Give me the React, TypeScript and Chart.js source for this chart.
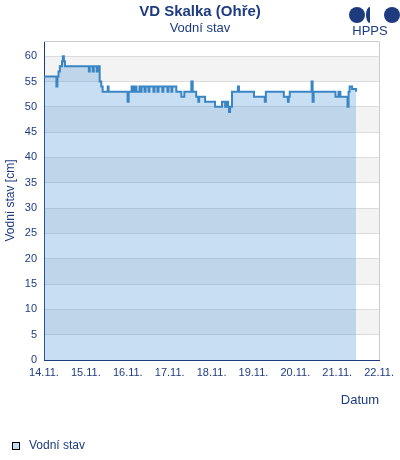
import React, { useEffect, useRef } from "react";
import { Chart, registerables } from "chart.js";

Chart.register(...registerables);

// hours since 14.11. 00:00
const hours = [
  0, 7.1, 7.7, 8.3, 9.1, 10.3, 10.8, 11.4, 12,
  25.7, 26.2, 27.9, 28.5, 30.2, 30.8,
  31.9, 32.8, 33.6,
  36.5, 37,
  47.9, 48.5,
  50.2, 51, 51.9, 53, 54.7, 55.3, 55.9, 57.6, 58.2, 59.9, 60.4, 62.7, 63.3, 65, 65.6, 67.8, 68.4, 70.7, 71.3, 73, 73.5, 75.8,
  78.7, 80.4,
  84.4, 85.2,
  87.2, 88.4, 88.9,
  92.3,
  98,
  102, 103.8, 104.9, 105.5, 106, 106.6,
  107.7,
  111.1, 111.7,
  120.3,
  126.5, 127.1,
  137.4,
  139.7, 140.2,
  140.8,
  153.3, 153.9, 154.5,
  167, 168.7, 169.8,
  173.9, 174.5, 175.1, 176.5, 178.8,
];
const levels = [
  56, 54, 56, 57, 58, 59, 60, 59, 58,
  57, 58, 57, 58, 57, 58,
  55, 54, 53,
  54, 53,
  51, 53,
  54, 53, 54, 53, 54, 53, 54, 53, 54, 53, 54, 53, 54, 53, 54, 53, 54, 53, 54, 53, 54, 53,
  52, 53,
  55, 53,
  52, 51, 52,
  51,
  50,
  51, 50, 51, 50, 49, 50,
  53,
  54, 53,
  52,
  51, 53,
  52,
  51, 52,
  53,
  55, 51, 53,
  52, 53, 52,
  50, 53, 54, 53.5, 53,
];
const dayLabels = ["14.11.", "15.11.", "16.11.", "17.11.", "18.11.", "19.11.", "20.11.", "21.11.", "22.11."];
const seriesName = "Vodní stav";
const chartTitle = "VD Skalka (Ohře)";
const yTitle = "Vodní stav [cm]";
const xTitle = "Datum";

const NAVY = "#1f3b7f";
const FONT = "'Liberation Sans', Arial, sans-serif";

const bandsPlugin = {
  id: "bands",
  beforeDraw(chart: any) {
    const { ctx, chartArea, scales } = chart;
    const y = scales.y;
    ctx.save();
    ctx.fillStyle = "#f3f3f3";
    for (let v = 5; v < 60; v += 10) {
      const top = y.getPixelForValue(v + 5);
      const bot = y.getPixelForValue(v);
      ctx.fillRect(chartArea.left, top, chartArea.right - chartArea.left, bot - top);
    }
    ctx.restore();
  },
  afterDraw(chart: any) {
    const { ctx, chartArea } = chart;
    ctx.save();
    ctx.strokeStyle = "#cccccc";
    ctx.lineWidth = 1;
    ctx.beginPath();
    ctx.moveTo(chartArea.left, Math.round(chartArea.top) + 0.5);
    ctx.lineTo(Math.round(chartArea.right) + 0.5, Math.round(chartArea.top) + 0.5);
    ctx.lineTo(Math.round(chartArea.right) + 0.5, chartArea.bottom);
    ctx.stroke();
    ctx.restore();
  },
};

export default function App() {
  const ref = useRef<HTMLCanvasElement>(null);
  useEffect(() => {
    document.body.style.margin = "0";
    const data = hours.map((h, i) => ({ x: h, y: levels[i] }));
    const chart = new Chart(ref.current as HTMLCanvasElement, {
      type: "line",
      data: {
        datasets: [
          {
            label: seriesName,
            data,
            borderColor: "#3a86c5",
            borderWidth: 2,
            backgroundColor: "rgba(72,145,212,0.3)",
            fill: "origin",
            stepped: true,
            pointRadius: 0,
          },
        ],
      },
      options: {
        animation: false,
        responsive: false,
        layout: { padding: { top: 41, right: 19, left: 0, bottom: 0 } },
        plugins: { legend: { display: false }, tooltip: { enabled: false } },
        scales: {
          x: {
            type: "linear",
            min: 0,
            max: 192,
            afterFit: (s: any) => {
              s.height = 100;
            },
            grid: { display: false, drawTicks: false },
            border: { display: true, color: NAVY, width: 1 },
            ticks: {
              stepSize: 24,
              autoSkip: false,
              maxRotation: 0,
              padding: 6,
              color: NAVY,
              font: { family: FONT, size: 11 },
              callback: (v: any) => dayLabels[Math.round(Number(v) / 24)] ?? "",
            },
            title: {
              display: true,
              text: xTitle,
              align: "end",
              color: NAVY,
              font: { family: FONT, size: 13 },
              padding: { top: 0, bottom: 52 },
            },
          },
          y: {
            min: 0,
            max: 63,
            afterFit: (s: any) => {
              s.width = 44;
            },
            grid: { color: "#dcdcdc", drawTicks: false, lineWidth: 1 },
            border: { display: true, color: NAVY, width: 1 },
            ticks: {
              stepSize: 5,
              includeBounds: false,
              padding: 7,
              color: NAVY,
              font: { family: FONT, size: 11 },
            },
            title: {
              display: true,
              text: yTitle,
              color: NAVY,
              font: { family: FONT, size: 12 },
              padding: { top: 3, bottom: 0 },
            },
          },
        },
      },
      plugins: [bandsPlugin],
    } as any);
    return () => chart.destroy();
  }, []);

  return (
    <div style={{ position: "relative", width: 400, height: 460, fontFamily: FONT, color: NAVY }}>
      <canvas ref={ref} width={400} height={460} style={{ position: "absolute", left: 0, top: 0, width: 400, height: 460 }} />
      <div style={{ position: "absolute", left: 0, top: 2, width: 400, textAlign: "center", fontWeight: "bold", fontSize: 15, lineHeight: "18px" }}>
        {chartTitle}
      </div>
      <div style={{ position: "absolute", left: 0, top: 20, width: 400, textAlign: "center", fontSize: 13, lineHeight: "16px" }}>
        {seriesName}
      </div>
      <svg style={{ position: "absolute", left: 340, top: 0 }} width={60} height={26}>
        <circle cx={17} cy={15} r={8} fill={NAVY} />
        <path d="M30 7 A4 8 0 0 0 30 23 Z" fill={NAVY} />
        <circle cx={52} cy={15} r={8} fill={NAVY} />
      </svg>
      <div style={{ position: "absolute", left: 350, top: 24, width: 40, textAlign: "center", fontSize: 13, lineHeight: "14px" }}>
        HPPS
      </div>
      <div style={{ position: "absolute", left: 12, top: 442, width: 6, height: 6, border: "1px solid #000", background: "#c6ddf1" }} />
      <div style={{ position: "absolute", left: 29, top: 438, fontSize: 12, lineHeight: "14px" }}>{seriesName}</div>
    </div>
  );
}
